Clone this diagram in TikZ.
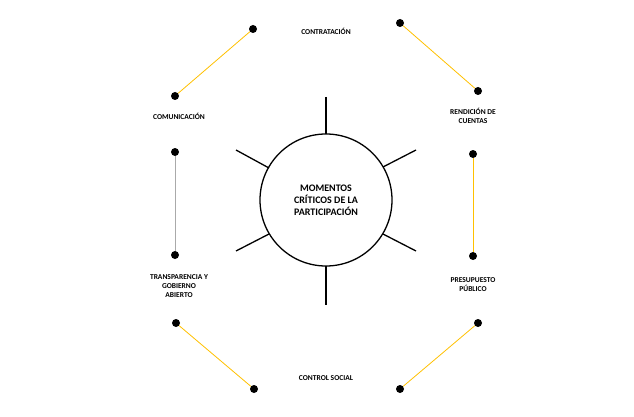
\documentclass[tikz,border=0pt]{standalone}
\usepackage{fontspec}
\setmainfont{Carlito}
\begin{document}
\begin{tikzpicture}[x=1pt,y=-1pt,
  dot/.style={circle,fill=black,inner sep=0pt,minimum size=8pt},
  lab/.style={font=\bfseries\fontsize{7.5}{9}\selectfont,align=center},
  yl/.style={draw={rgb,255:red,255;green,192;blue,0},line width=0.8pt},
  gl/.style={draw={rgb,255:red,170;green,170;blue,170},line width=0.8pt},
  spoke/.style={line width=1.3pt}]
\useasboundingbox (0,0) rectangle (634,417);
\node[circle,draw,line width=1.3pt,minimum size=132pt,font=\bfseries\fontsize{10}{12}\selectfont,align=center] (c) at (326,200) {MOMENTOS\\CRÍTICOS DE LA\\PARTICIPACIÓN};
\draw[spoke] (326,97) -- (326,134);
\draw[spoke] (326,266) -- (326,305);
\draw[spoke] (236,150) -- (269,168);
\draw[spoke] (383,167) -- (416,150);
\draw[spoke] (236,251) -- (269,234);
\draw[spoke] (383,234) -- (416,251);
\node[dot] (a1) at (253,29) {}; \node[dot] (a2) at (175,96) {};
\node[dot] (b1) at (400,23) {}; \node[dot] (b2) at (478,91) {};
\node[dot] (g1) at (175,152) {}; \node[dot] (g2) at (175,255) {};
\node[dot] (d1) at (473,154) {}; \node[dot] (d2) at (473,256) {};
\node[dot] (e1) at (176,323) {}; \node[dot] (e2) at (254,389) {};
\node[dot] (f1) at (478,323) {}; \node[dot] (f2) at (400,389) {};
\draw[yl] (a1) -- (a2);
\draw[yl] (b1) -- (b2);
\draw[gl] (g1) -- (g2);
\draw[yl] (d1) -- (d2);
\draw[yl] (e1) -- (e2);
\draw[yl] (f1) -- (f2);
\node[lab] (t1) at (326,31) {CONTRATACIÓN};
\node[lab] (t2) at (473,116) {RENDICIÓN DE\\CUENTAS};
\node[lab] (t3) at (179,116) {COMUNICACIÓN};
\node[lab] (t4) at (179,286) {TRANSPARENCIA Y\\GOBIERNO\\ABIERTO};
\node[lab] (t5) at (473,285) {PRESUPUESTO\\PÚBLICO};
\node[lab] (t6) at (326,378) {CONTROL SOCIAL};
\end{tikzpicture}
\end{document}
